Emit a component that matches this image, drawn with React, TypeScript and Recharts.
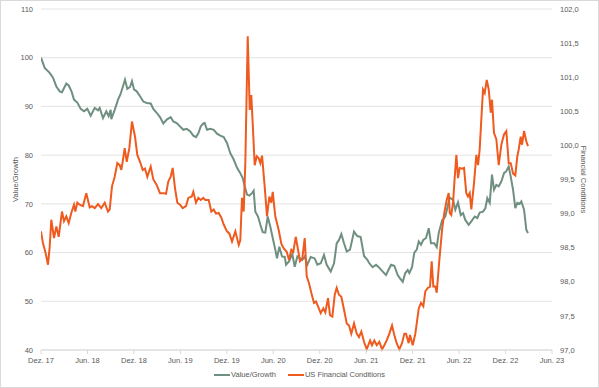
import React from 'react';
import { LineChart, Line, XAxis, YAxis, CartesianGrid, Legend } from 'recharts';

// x positions are months since Dez. 17
const X_LABELS = ['Dez. 17', 'Jun. 18', 'Dez. 18', 'Jun. 19', 'Dez. 19', 'Jun. 20', 'Dez. 20', 'Jun. 21', 'Dez. 21', 'Jun. 22', 'Dez. 22', 'Jun. 23'];
const X_TICKS = X_LABELS.map((_, i) => i * 6);
const LEFT_TICKS = [40, 50, 60, 70, 80, 90, 100, 110];
const RIGHT_TICKS = [97, 97.5, 98, 98.5, 99, 99.5, 100, 100.5, 101, 101.5, 102];

const valueGrowthT = [
  0, 0.48, 1.12, 1.55, 1.98, 2.42, 2.71, 3.27, 3.58, 3.94, 4.26, 4.69, 5.13, 5.55, 5.98, 6.42, 6.94, 7.36, 7.58, 8.01,
  8.43, 8.74, 9.0, 9.08, 9.52, 9.95, 10.27, 10.85, 11.15, 11.5, 11.75, 12.01, 12.36, 12.79, 13.21, 13.65, 14.17, 14.51, 14.94, 15.37,
  15.8, 16.24, 16.75, 17.09, 17.53, 17.95, 18.38, 18.82, 19.25, 19.67, 20.02, 20.32, 20.63, 20.96, 21.14, 21.44, 21.87, 22.31, 22.73, 23.16,
  23.6, 24.02, 24.45, 24.89, 25.32, 25.74, 26.05, 26.31, 26.61, 26.91, 27.26, 27.47, 27.68, 28.03, 28.33, 28.64, 28.97, 29.28, 29.62, 29.93,
  30.26, 30.48, 30.78, 31.13, 31.48, 31.65, 32.03, 32.46, 32.77, 33.11, 33.45, 33.75, 34.06, 34.4, 34.84, 35.35, 35.69, 36.13, 36.55, 36.9,
  37.42, 37.85, 38.19, 38.49, 38.79, 39.14, 39.49, 39.91, 40.43, 40.85, 41.29, 41.72, 42.15, 42.4, 42.84, 43.27, 43.62, 44.14, 44.56, 45.21,
  45.63, 46.07, 46.37, 46.72, 47.05, 47.36, 47.57, 47.92, 48.22, 48.53, 48.79, 49.08, 49.38, 49.73, 50.08, 50.37, 50.8, 51.11, 51.37, 51.8,
  52.22, 52.53, 52.77, 53.22, 53.51, 53.86, 54.21, 54.51, 54.8, 55.24, 55.58, 56.02, 56.36, 56.66, 57.09, 57.39, 57.65, 57.96, 58.25, 58.51,
  58.81, 59.12, 59.46, 59.8, 60.1, 60.41, 60.67, 60.97, 61.26, 61.52, 61.83, 62.04, 62.39, 62.68, 62.9,
];
const valueGrowthV = [
  100, 97.9, 96.9, 95.9, 94.1, 93.1, 92.9, 94.7, 94.3, 93.1, 91.4, 90.8, 89.5, 89.0, 89.5, 88.1, 89.7, 89.2, 89.7, 87.6,
  89.0, 88.0, 89.3, 87.4, 89.3, 91.4, 92.5, 95.5, 93.6, 94.0, 95.2, 93.5, 93.1, 92.1, 91.0, 90.7, 90.6, 89.5, 88.7, 87.8,
  86.5, 87.3, 87.8, 86.9, 86.6, 85.9, 85.2, 85.4, 84.9, 84.0, 83.7, 84.5, 85.9, 86.5, 86.6, 85.2, 85.4, 85.2, 84.4, 84.0,
  83.7, 82.5, 80.4, 79.1, 77.4, 76.3, 75.3, 73.6, 71.9, 71.7, 72.2, 72.7, 68.4, 67.4, 65.7, 64.2, 64.1, 67.4, 65.3, 63.0,
  60.6, 58.8, 61.2, 59.2, 59.1, 57.5, 58.2, 59.7, 57.1, 59.2, 58.8, 58.5, 59.2, 57.5, 59.1, 58.8, 57.5, 57.8, 59.5, 57.5,
  56.1, 57.8, 61.9, 62.6, 63.8, 61.9, 60.2, 60.6, 64.3, 63.4, 63.2, 59.3, 58.5, 57.8, 57.0, 57.5, 57.0, 56.1, 55.4, 57.5,
  57.3, 55.4, 54.7, 54.0, 55.8, 56.4, 55.8, 57.0, 60.0, 60.6, 62.3, 61.6, 62.6, 63.0, 65.0, 61.9, 61.9, 61.1, 64.0, 66.6,
  67.4, 69.5, 71.3, 70.8, 68.8, 70.3, 67.7, 68.1, 66.7, 65.7, 66.4, 67.4, 67.1, 68.2, 68.4, 69.1, 71.2, 70.2, 76.0, 72.9,
  73.9, 73.6, 74.6, 76.3, 76.7, 77.7, 75.6, 72.9, 69.1, 70.2, 70.0, 70.5, 68.8, 64.7, 64.0,
];

const financialT = [
  0, 0.26, 0.56, 0.9, 1.12, 1.33, 1.68, 1.98, 2.29, 2.71, 2.97, 3.27, 3.58, 3.91, 4.26, 4.43, 4.69, 5.0, 5.42, 5.85,
  6.29, 6.59, 6.94, 7.36, 7.79, 8.23, 8.65, 8.87, 9.17, 9.52, 9.86, 10.17, 10.37, 10.55, 10.81, 11.07, 11.41, 11.75, 12.14, 12.44,
  12.79, 13.14, 13.43, 13.73, 14.17, 14.51, 14.94, 15.37, 15.8, 16.15, 16.44, 16.75, 17.01, 17.31, 17.61, 17.95, 18.3, 18.73, 19.03, 19.47,
  19.67, 20.02, 20.32, 20.63, 20.96, 21.22, 21.66, 22.0, 22.31, 22.6, 22.95, 23.29, 23.6, 24.02, 24.32, 24.67, 25.1, 25.54, 25.74, 25.96,
  26.18, 26.39, 26.7, 26.96, 27.16, 27.34, 27.6, 27.86, 28.12, 28.33, 28.55, 28.89, 29.19, 29.49, 29.75, 29.93, 30.26, 30.7, 31.04, 31.35,
  31.74, 32.03, 32.33, 32.59, 32.9, 33.2, 33.45, 33.75, 34.06, 34.32, 34.62, 34.91, 35.26, 35.52, 35.78, 36.13, 36.46, 36.72, 37.07, 37.33,
  37.63, 37.94, 38.19, 38.49, 38.79, 39.14, 39.49, 39.78, 40.08, 40.43, 40.78, 41.07, 41.37, 41.72, 42.07, 42.5, 42.75, 43.05, 43.36, 43.7,
  44.05, 44.34, 44.65, 44.99, 45.34, 45.63, 45.94, 46.28, 46.63, 46.93, 47.15, 47.49, 47.66, 48.01, 48.35, 48.79, 49.08, 49.38, 49.64, 49.95,
  50.25, 50.46, 50.67, 50.93, 51.11, 51.45, 51.8, 52.09, 52.4, 52.66, 52.79, 52.99, 53.22, 53.44, 53.65, 53.86, 54.08, 54.38, 54.64, 54.93,
  55.15, 55.37, 55.58, 55.93, 56.23, 56.45, 56.66, 56.87, 57.09, 57.31, 57.57, 57.83, 58.09, 58.25, 58.51, 58.81, 59.12, 59.46, 59.8, 60.1,
  60.41, 60.67, 60.97, 61.26, 61.52, 61.7, 61.96, 62.13, 62.39, 62.68, 62.9,
];
const financialV = [
  98.74, 98.56, 98.44, 98.25, 98.51, 98.91, 98.64, 98.81, 98.66, 99.03, 98.89, 98.96, 98.86, 99.01, 99.13, 99.03, 99.16, 99.13, 99.11, 99.3,
  99.09, 99.11, 99.08, 99.14, 99.08, 99.16, 99.03, 99.06, 99.4, 99.54, 99.74, 99.71, 99.64, 99.76, 99.96, 99.76, 99.96, 100.35, 100.13, 99.86,
  99.76, 99.64, 99.66, 99.54, 99.69, 99.5, 99.42, 99.3, 99.3, 99.29, 99.47, 99.54, 99.67, 99.37, 99.16, 99.13, 99.08, 99.11, 99.23, 99.25,
  99.32, 99.16, 99.23, 99.2, 99.23, 99.2, 99.2, 99.03, 99.06, 99.0, 99.01, 98.94, 98.84, 98.74, 98.71, 98.59, 98.74, 98.54, 98.61, 99.23,
  99.03, 99.74, 101.6, 100.52, 100.74, 100.33, 99.71, 99.84, 99.81, 99.74, 99.85, 99.4, 98.96, 99.25, 99.16, 99.32, 98.96, 98.76, 98.56, 98.49,
  98.44, 98.32, 98.47, 98.44, 98.66, 98.47, 98.3, 98.34, 98.64, 98.08, 97.98, 97.84, 97.69, 97.71, 97.64, 97.54, 97.61, 97.55, 97.76, 97.51,
  97.49, 97.81, 97.91, 97.81, 97.78, 97.59, 97.39, 97.36, 97.24, 97.39, 97.24, 97.19, 97.27, 97.12, 97.01, 97.14, 97.07, 97.14, 97.07, 97.12,
  97.01, 97.07, 97.14, 97.24, 97.36, 97.22, 97.1, 97.01, 97.1, 97.24, 97.24, 97.1, 97.22, 97.07, 97.24, 97.61, 97.69, 97.64, 97.86, 97.91,
  97.93, 98.3, 97.93, 97.93, 97.84, 98.32, 98.76, 99.01, 99.2, 99.3, 99.01, 98.98, 99.16, 99.54, 99.86, 99.52, 99.67, 99.66, 99.67, 99.3,
  99.25, 99.3, 99.06, 99.45, 99.86, 99.71, 99.94, 100.38, 100.82, 100.77, 100.96, 100.82, 100.48, 100.67, 100.18, 100.09, 99.71, 100.01, 100.16, 100.21,
  99.74, 99.74, 99.59, 99.56, 99.84, 99.94, 100.13, 100.01, 100.21, 100.06, 99.99,
];

const valueGrowthData = valueGrowthT.map((t, i) => ({ t, v: valueGrowthV[i] }));
const financialData = financialT.map((t, i) => ({ t, v: financialV[i] }));

const GREEN = '#6f8f80';
const ORANGE = '#ef5a1f';
const TEXT = '#595959';
const FONT = '"Liberation Sans", Arial, sans-serif';
const FONT_SIZE = 7.5;

const legendItems = [
  { name: 'Value/Growth', color: GREEN },
  { name: 'US Financial Conditions', color: ORANGE },
];

const ChartLegend = () => (
  <div style={{ display: 'flex', justifyContent: 'center', gap: 12, marginTop: -2, fontFamily: FONT, fontSize: FONT_SIZE, color: TEXT }}>
    {legendItems.map(item => (
      <div key={item.name} style={{ display: 'flex', alignItems: 'center' }}>
        <span style={{ display: 'inline-block', width: 16, height: 2, background: item.color, marginRight: 1 }} />
        <span>{item.name}</span>
      </div>
    ))}
  </div>
);

export default function App() {
  const tickStyle = { fill: TEXT, fontSize: FONT_SIZE, fontFamily: FONT };
  const labelStyle = { fill: TEXT, fontSize: FONT_SIZE, fontFamily: FONT, textAnchor: 'middle' as const };
  return (
    <div style={{ position: 'fixed', left: 0, top: 0, width: 599, height: 388, boxSizing: 'border-box', border: '1px solid #d9d9d9', background: '#fff' }}>
      <LineChart width={597} height={386} margin={{ top: 8, right: 0, bottom: 0, left: 0 }}>
        <CartesianGrid yAxisId="left" vertical={false} stroke="#e3e3e3" />
        <XAxis
          type="number"
          dataKey="t"
          domain={[0, 66]}
          ticks={X_TICKS}
          tickFormatter={(v: number) => X_LABELS[v / 6]}
          tick={tickStyle}
          stroke="#d9d9d9"
          tickSize={4}
          tickMargin={4}
          height={22}
          allowDataOverflow
        />
        <YAxis
          yAxisId="left"
          domain={[40, 110]}
          ticks={LEFT_TICKS}
          tick={tickStyle}
          axisLine={false}
          tickLine={false}
          width={40}
          label={{ value: 'Value/Growth', angle: -90, position: 'insideLeft', offset: 14, style: labelStyle }}
        />
        <YAxis
          yAxisId="right"
          orientation="right"
          domain={[97, 102]}
          ticks={RIGHT_TICKS}
          tickFormatter={(v: number) => v.toFixed(1).replace('.', ',')}
          tick={tickStyle}
          axisLine={false}
          tickLine={false}
          width={46}
          label={{ value: 'Financial Conditions', angle: 90, position: 'insideRight', offset: 14, style: labelStyle }}
        />
        <Legend verticalAlign="bottom" height={15} content={ChartLegend} />
        <Line yAxisId="left" data={valueGrowthData} dataKey="v" name="Value/Growth" stroke={GREEN} strokeWidth={2} dot={false} type="linear" isAnimationActive={false} />
        <Line yAxisId="right" data={financialData} dataKey="v" name="US Financial Conditions" stroke={ORANGE} strokeWidth={2} dot={false} type="linear" isAnimationActive={false} />
      </LineChart>
    </div>
  );
}
